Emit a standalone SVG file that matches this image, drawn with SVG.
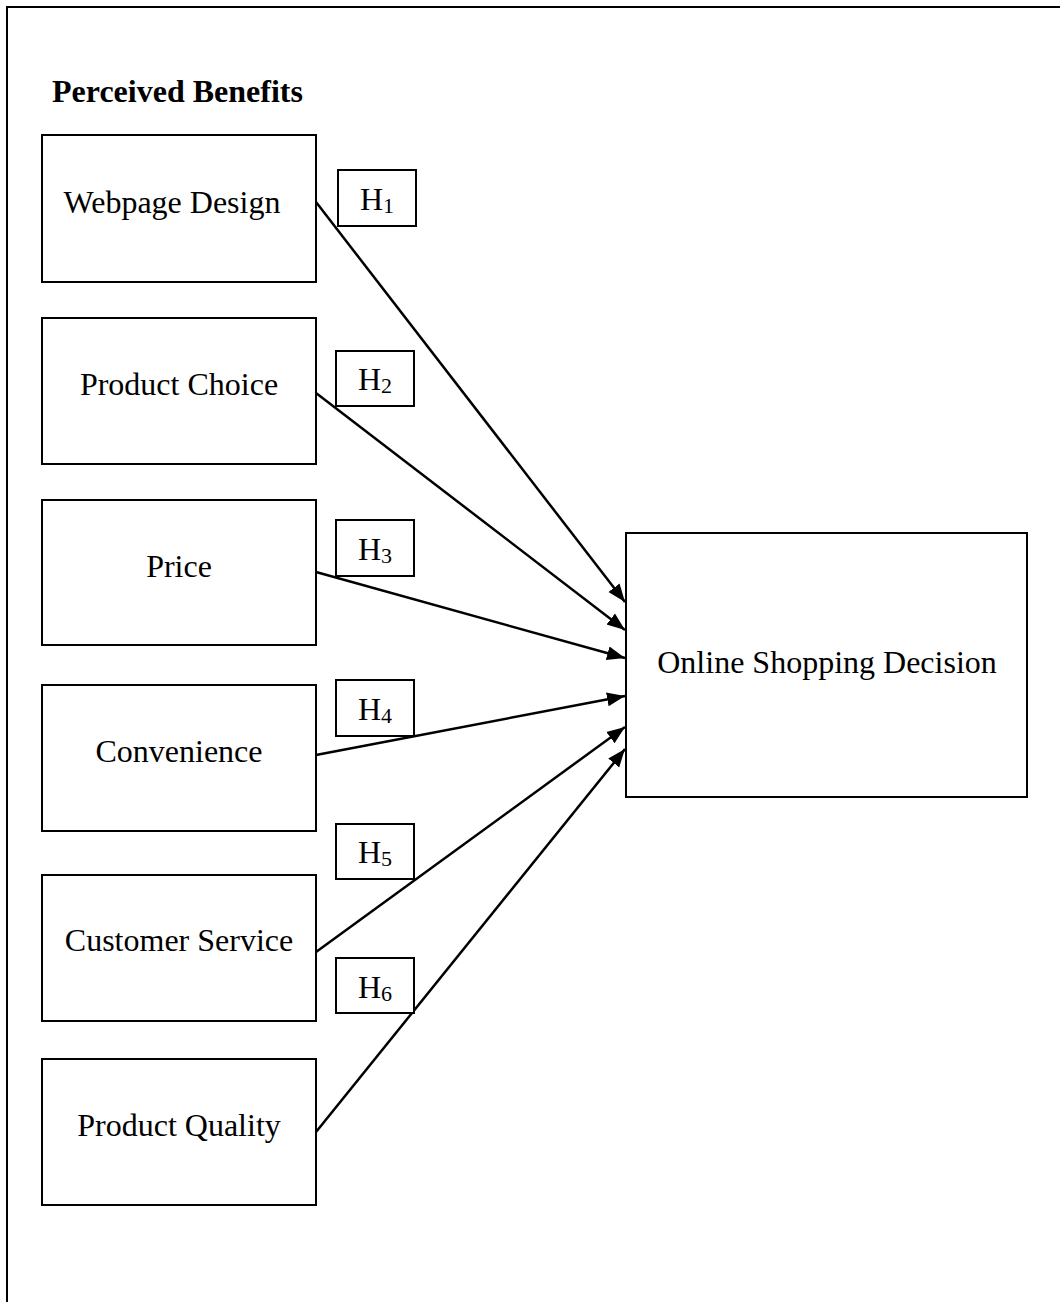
<svg xmlns="http://www.w3.org/2000/svg" width="1060" height="1302" viewBox="0 0 1060 1302">
<style>
.box{fill:#fff;stroke:#000;stroke-width:2}
.t{font-family:"Liberation Serif","Times New Roman",serif;font-size:32px;fill:#000;text-anchor:middle}
.b{font-family:"Liberation Serif","Times New Roman",serif;font-size:32px;font-weight:bold;fill:#000}
.sub{font-size:22px}
.c{fill:none;stroke:#000;stroke-width:2.5}
</style>
<defs>
<marker id="ah" markerUnits="userSpaceOnUse" markerWidth="20" markerHeight="16" refX="18" refY="8" orient="auto">
<path d="M0,1 L18,8 L0,15 Z" fill="#000"/>
</marker>
</defs>
<rect width="1060" height="1302" fill="#fff"/>
<path d="M7,1302 V7 H1060" fill="none" stroke="#000" stroke-width="2"/>
<text class="b" x="52" y="102">Perceived Benefits</text>
<g id="webpage-design"><rect class="box" x="42" y="135" width="274" height="147"/><text class="t" x="172" y="213">Webpage Design</text></g>
<g id="product-choice"><rect class="box" x="42" y="318" width="274" height="146"/><text class="t" x="179" y="395">Product Choice</text></g>
<g id="price"><rect class="box" x="42" y="500" width="274" height="145"/><text class="t" x="179" y="577">Price</text></g>
<g id="convenience"><rect class="box" x="42" y="685" width="274" height="146"/><text class="t" x="179" y="762">Convenience</text></g>
<g id="customer-service"><rect class="box" x="42" y="875" width="274" height="146"/><text class="t" x="179" y="951">Customer Service</text></g>
<g id="product-quality"><rect class="box" x="42" y="1059" width="274" height="146"/><text class="t" x="179" y="1136">Product Quality</text></g>
<g id="online-shopping-decision"><rect class="box" x="626" y="533" width="401" height="264"/><text class="t" x="827" y="673">Online Shopping Decision</text></g>
<g id="connectors">
<line class="c" x1="316" y1="202" x2="625" y2="602" marker-end="url(#ah)"/>
<line class="c" x1="316" y1="393" x2="625" y2="630" marker-end="url(#ah)"/>
<line class="c" x1="316" y1="572" x2="625" y2="658" marker-end="url(#ah)"/>
<line class="c" x1="316" y1="755" x2="625" y2="696" marker-end="url(#ah)"/>
<line class="c" x1="316" y1="952" x2="625" y2="727" marker-end="url(#ah)"/>
<line class="c" x1="316" y1="1132" x2="625" y2="749" marker-end="url(#ah)"/>
</g>
<g id="h1"><rect class="box" x="338" y="170" width="78" height="56"/><text class="t" x="377" y="210">H<tspan class="sub" dy="3">1</tspan></text></g>
<g id="h2"><rect class="box" x="336" y="351" width="78" height="55"/><text class="t" x="375" y="390">H<tspan class="sub" dy="3">2</tspan></text></g>
<g id="h3"><rect class="box" x="336" y="520" width="78" height="56"/><text class="t" x="375" y="560">H<tspan class="sub" dy="3">3</tspan></text></g>
<g id="h4"><rect class="box" x="336" y="680" width="78" height="56"/><text class="t" x="375" y="720">H<tspan class="sub" dy="3">4</tspan></text></g>
<g id="h5"><rect class="box" x="336" y="824" width="78" height="55"/><text class="t" x="375" y="863">H<tspan class="sub" dy="3">5</tspan></text></g>
<g id="h6"><rect class="box" x="336" y="958" width="78" height="55"/><text class="t" x="375" y="998">H<tspan class="sub" dy="3">6</tspan></text></g>
</svg>
